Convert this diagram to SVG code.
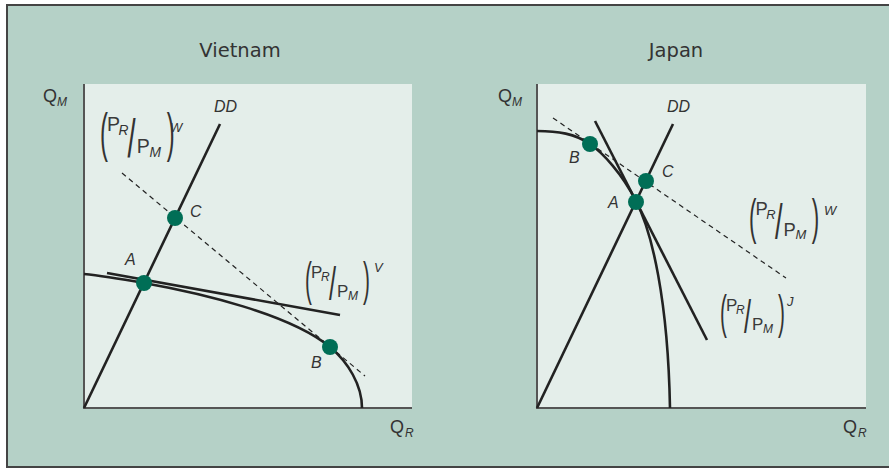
<svg xmlns="http://www.w3.org/2000/svg" xmlns:xlink="http://www.w3.org/1999/xlink" width="889" height="469" viewBox="0 0 889 469">
<style>
.frame{fill:#b5d1c7;stroke:#444;stroke-width:2}
.panel{fill:#e4eeea}
.axis{stroke:#555;stroke-width:2;fill:none}
.curve{stroke:#222;stroke-width:2.6;fill:none}
.dash{stroke:#222;stroke-width:1.2;stroke-dasharray:5 4;fill:none}
.dot{fill:#006e56}
.title{font-family:"DejaVu Sans",sans-serif;font-size:19.5px;fill:#333}
.lab{font-family:"Liberation Sans",sans-serif;font-size:16px;font-style:italic;fill:#333}
.q{font-family:"Liberation Sans",sans-serif;font-size:18px;fill:#333}
.sub{font-family:"Liberation Sans",sans-serif;font-size:12px;font-style:italic;fill:#333}
.p{font-family:"Liberation Sans",sans-serif;font-size:17px;fill:#3a3a3a}
.big{font-family:"Liberation Sans",sans-serif;font-size:46px;fill:#333}
.sup{font-family:"Liberation Sans",sans-serif;font-size:13px;font-style:italic;fill:#333}
</style>
<defs>
<g id="ratio">
<text class="big" transform="translate(0,33) scale(0.45,1)">(</text>
<text class="p" x="6" y="16">P</text>
<text class="sub" x="16" y="19">R</text>
<text class="big" transform="translate(24,38) scale(0.55,1)">/</text>
<text class="p" x="32" y="35">P</text>
<text class="sub" x="43" y="38">M</text>
<text class="big" transform="translate(58,33) scale(0.45,1)">)</text>
</g>
</defs>
<rect class="frame" x="7" y="5" width="900" height="462"/>
<text class="title" x="240" y="57" text-anchor="middle">Vietnam</text>
<text class="title" x="676" y="57" text-anchor="middle">Japan</text>

<g id="vietnam">
<rect class="panel" x="84" y="84" width="328" height="324"/>
<g id="v-axes">
<path class="axis" d="M84,84 V408 H412"/>
<text class="q" x="43" y="102">Q</text><text class="sub" x="57" y="106">M</text>
<text class="q" x="390" y="433">Q</text><text class="sub" x="405" y="437">R</text>
</g>
<g id="v-connectors">
<path class="dash" d="M122,173 L365,376"/>
<path class="curve" d="M84,408 L220,124"/>
<path class="curve" d="M107,273 L340,315"/>
<path class="curve" d="M84,274 C104,276 124,279.5 144,283 C200,293 290,314 330,347 C348,362 362,385 362,408"/>
</g>
<text class="lab" x="214" y="112">DD</text>
<g id="v-A"><circle class="dot" cx="144" cy="283" r="8"/><text class="lab" x="125" y="265">A</text></g>
<g id="v-C"><circle class="dot" cx="175" cy="218" r="8"/><text class="lab" x="190" y="217">C</text></g>
<g id="v-B"><circle class="dot" cx="330" cy="347" r="8"/><text class="lab" x="311" y="368">B</text></g>
<g id="v-ratioW"><use xlink:href="#ratio" transform="translate(100,113) scale(1.15)"/><text class="sup" x="170" y="132">W</text></g>
<g id="v-ratioV"><use xlink:href="#ratio" transform="translate(305,262)"/><text class="sup" x="374" y="272">V</text></g>
</g>

<g id="japan">
<rect class="panel" x="537" y="84" width="329" height="324"/>
<g id="j-axes">
<path class="axis" d="M537,84 V408 H866"/>
<text class="q" x="498" y="102">Q</text><text class="sub" x="512" y="106">M</text>
<text class="q" x="843" y="433">Q</text><text class="sub" x="858" y="437">R</text>
</g>
<g id="j-connectors">
<path class="dash" d="M553,118 L786,278"/>
<path class="curve" d="M537,408 L673,124"/>
<path class="curve" d="M595,121 L707,340"/>
<path class="curve" d="M537,131 C558,131 575,133.7 590,144 C603,153 622,173.6 636,201 C652,232 668,300 670,408"/>
</g>
<text class="lab" x="667" y="112">DD</text>
<g id="j-B"><circle class="dot" cx="590" cy="144" r="8"/><text class="lab" x="569" y="163">B</text></g>
<g id="j-C"><circle class="dot" cx="646" cy="181" r="8"/><text class="lab" x="662" y="177">C</text></g>
<g id="j-A"><circle class="dot" cx="636" cy="202" r="8"/><text class="lab" x="608" y="208">A</text></g>
<g id="j-ratioW"><use xlink:href="#ratio" transform="translate(749,198) scale(1.08)"/><text class="sup" x="824" y="215">W</text></g>
<g id="j-ratioJ"><use xlink:href="#ratio" transform="translate(720,295)"/><text class="sup" x="787" y="306">J</text></g>
</g>
</svg>
